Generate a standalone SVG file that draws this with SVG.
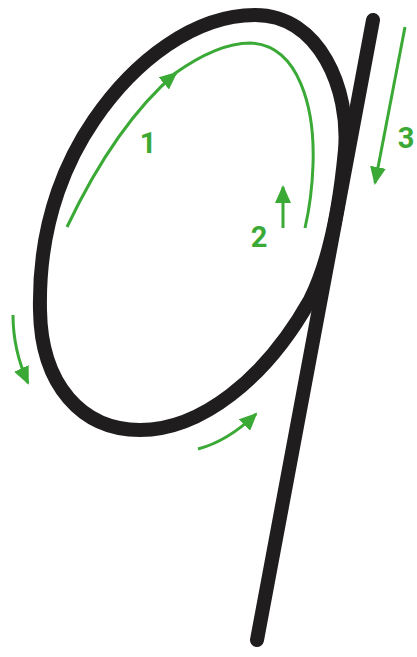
<svg xmlns="http://www.w3.org/2000/svg" width="417" height="657" viewBox="0 0 417 657">
<defs>
<style>
.ink{fill:none;stroke:#1f1d1e;stroke-width:14;stroke-linecap:round;stroke-linejoin:round}
.guide{fill:none;stroke:#3aa935;stroke-width:3;stroke-linecap:butt}
.num{font-family:Roboto,"Liberation Sans",sans-serif;font-weight:bold;font-size:29px;fill:#3aa935;text-anchor:middle}
</style>
<marker id="ah" viewBox="0 0 18 16" refX="16" refY="8" markerWidth="18" markerHeight="16" markerUnits="userSpaceOnUse" orient="auto">
<path d="M0,0 L18,8 L0,16 Z" fill="#3aa935"/>
</marker>
</defs>
<rect width="417" height="657" fill="#ffffff"/>
<g id="letter">
<path class="ink" d="M255 15 C195 15 135 60 94 120 C72 152 38 215 40 310 C41 385 82 430 140 430 C200 430 265 380 310 300 C325 270 338 225 345 150 C350 90 320 15 255 15 Z"/>
<line class="ink" x1="373" y1="20" x2="257" y2="640"/>
</g>
<g id="connectors">
<path class="guide" marker-end="url(#ah)" d="M67 227 C95 168 130 112 176 73"/>
<path class="guide" d="M174 74 C205 52 230 43 250 43 C300 45 315 110 313 165 C312 195 308 215 305 228"/>
<path class="guide" marker-end="url(#ah)" d="M283 228 L283 187"/>
<path class="guide" marker-end="url(#ah)" d="M405 27 L375 183"/>
<path class="guide" marker-end="url(#ah)" d="M13 315 Q13 350 28 383"/>
<path class="guide" marker-end="url(#ah)" d="M198 449 Q228 441 256 414"/>
</g>
<g id="labels">
<text class="num" x="148" y="153">1</text>
<text class="num" x="259" y="247">2</text>
<text class="num" x="406" y="148">3</text>
</g>
</svg>
